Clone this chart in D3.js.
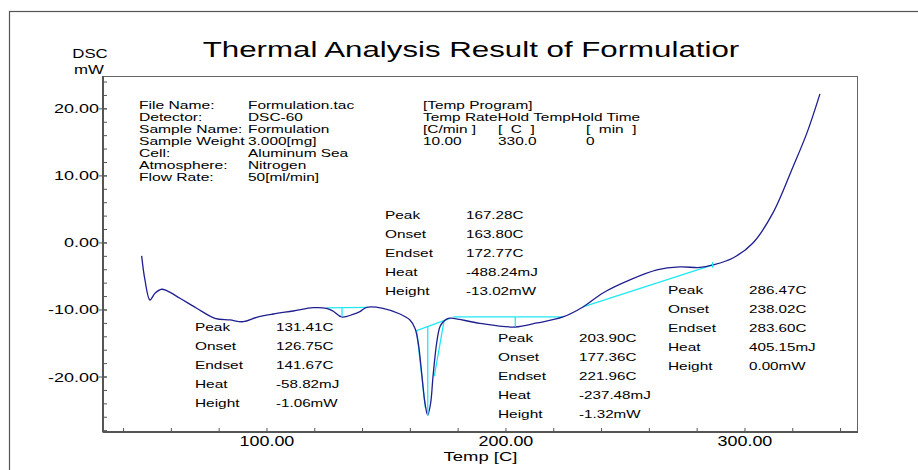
<!DOCTYPE html>
<html>
<head>
<meta charset="utf-8">
<script src="https://cdn.jsdelivr.net/npm/d3@7"></script>
<style>
  body { margin: 0; background: #fff; }
  svg { display: block; font-family: "Liberation Sans", Arial, sans-serif; }
</style>
</head>
<body>
<svg width="918" height="470"></svg>
<script>
// DSC trace: temperature [C] and heat flow [mW]
const temps = [47.57, 48.95, 51.05, 53.14, 55.94, 58.03, 63.60, 70.59, 78.24, 84.52,
  90.08, 95.69, 102.64, 111.0, 119.37, 124.98, 127.62, 131.26, 135.98, 138.91,
  141.72, 148.54, 155.65, 159.83, 161.92, 163.31, 164.73, 166.11, 167.24, 168.49,
  169.46, 171.0, 172.38, 173.77, 175.86, 177.95, 189.12, 203.77, 212.97, 223.85,
  232.22, 240.59, 251.88, 263.18, 272.80, 281.17, 286.61, 294.98, 303.35, 311.72,
  320.08, 325.94, 331.38];
const dsc = [-1.94, -5.52, -8.51, -7.51, -6.91, -7.12, -8.25, -9.75, -11.24, -11.49,
  -11.75, -11.09, -10.60, -10.15, -9.66, -9.75, -10.15, -11.04, -10.67, -10.25,
  -9.60, -9.75, -10.60, -11.49, -12.73, -14.93, -19.40, -23.88, -25.67, -23.88,
  -20.0, -14.93, -12.49, -11.75, -11.24, -11.24, -11.99, -12.54, -11.94, -11.04,
  -9.55, -7.46, -5.52, -4.03, -3.58, -3.66, -3.28, -2.24, 0, 4.48,
  11.34, 16.42, 22.24];

// peak analysis results
const peakTemps = [131.41, 167.28, 203.90, 286.47];
const onsetTemps = [126.75, 163.80, 177.36, 238.02];
const endsetTemps = [141.67, 172.77, 221.96, 283.60];
const heats = [-58.82, -488.24, -237.48, 405.15];
const heights = [-1.06, -13.02, -1.32, 0.00];
const rowNames = ["Peak", "Onset", "Endset", "Heat", "Height"];

// analysis baselines (start / end points) and peak bottoms
const baseStart = [[124.98, -9.70], [162.6, -13.09], [177.95, -11.04], [232.22, -9.55]];
const baseEnd = [[141.72, -9.60], [176.6, -11.24], [223.85, -11.04], [286.61, -3.28]];
const peakBottom = [-11.0, -25.8, -12.5, -3.7];
const tangents = [
  [[162.6, -12.99], [166.3, -24.6]],
  [[174.1, -11.64], [170.0, -19.9]]
];

// axis ticks
const yMajor = [20, 10, 0, -10, -20];
const xMajor = [100, 200, 300];

// header text
const titleText = "Thermal Analysis Result of Formulatior";
const infoLabels = ["File Name:", "Detector:", "Sample Name:", "Sample Weight", "Cell:", "Atmosphere:", "Flow Rate:"];
const infoValues = ["Formulation.tac", "DSC-60", "Formulation", "3.000[mg]", "Aluminum Sea", "Nitrogen", "50[ml/min]"];
const progRows = [["[Temp Program]"], ["Temp RateHold TempHold Time"], ["[C/min ]", "[  C  ]", "[  min  ]"], ["10.00", "330.0", "0"]];

const svg = d3.select("svg");
const W = 918, H = 470;
const plot = { left: 103, right: 858, top: 76, bottom: 432 };

const x = d3.scaleLinear().domain([31.4, 347.3]).range([plot.left, plot.right]);
const y = d3.scaleLinear().domain([-28.2, 24.9]).range([plot.bottom, plot.top]);

// plain hyphen minus, like the instrument printout
const f2 = d3.formatLocale({ decimal: ".", thousands: ",", grouping: [3], currency: ["", ""], minus: "-" }).format(".2f");

// stretch text horizontally like the instrument's print font
function stretch(sel, k) {
  sel.each(function () {
    const w = this.getComputedTextLength();
    this.setAttribute("textLength", w * k);
    this.setAttribute("lengthAdjust", "spacingAndGlyphs");
  });
}

// outer frame
svg.append("rect").attr("x", 9.5).attr("y", 11.5).attr("width", W).attr("height", H)
  .attr("fill", "none").attr("stroke", "#555").attr("stroke-width", 1.2);

// title
svg.append("text").attr("x", 471).attr("y", 57).attr("text-anchor", "middle")
  .attr("font-size", 22).text(titleText).call(stretch, 1.42);

svg.append("text").attr("x", 90).attr("y", 58).attr("text-anchor", "middle")
  .attr("font-size", 12).text("DSC").call(stretch, 1.4);
svg.append("text").attr("x", 89).attr("y", 74).attr("text-anchor", "middle")
  .attr("font-size", 12).text("mW").call(stretch, 1.4);

// plot frame (top/right thin)
svg.append("rect").attr("x", plot.left).attr("y", plot.top + 0.5)
  .attr("width", plot.right - plot.left - 0.5).attr("height", plot.bottom - plot.top)
  .attr("fill", "none").attr("stroke", "#666").attr("stroke-width", 1);

// y axis
const yAxis = svg.append("g").attr("transform", `translate(${plot.left},0)`);
yAxis.append("line").attr("y1", plot.top).attr("y2", plot.bottom).attr("stroke", "#555").attr("stroke-width", 2);
yAxis.selectAll(".ymin").data(d3.range(-28, 25, 2)).join("line")
  .attr("x1", 0).attr("x2", 4).attr("y1", d => y(d)).attr("y2", d => y(d))
  .attr("stroke", "#555");
yAxis.selectAll(".ymaj").data(yMajor).join("line")
  .attr("x1", -4).attr("x2", 4).attr("y1", d => y(d)).attr("y2", d => y(d))
  .attr("stroke", "#555");
yAxis.selectAll("text").data(yMajor).join("text")
  .attr("x", -4).attr("y", d => y(d) + 4.5).attr("text-anchor", "end")
  .attr("font-size", 12).text(f2).call(stretch, 1.5);

// x axis
const xAxis = svg.append("g").attr("transform", `translate(0,${plot.bottom})`);
xAxis.append("line").attr("x1", plot.left).attr("x2", plot.right).attr("stroke", "#555").attr("stroke-width", 2);
xAxis.selectAll(".xmin").data(d3.range(40, 347, 20)).join("line")
  .attr("x1", d => x(d)).attr("x2", d => x(d)).attr("y1", 0).attr("y2", -4)
  .attr("stroke", "#555");
xAxis.selectAll("text").data(xMajor).join("text")
  .attr("x", d => x(d)).attr("y", 13.5).attr("text-anchor", "middle")
  .attr("font-size", 14).text(f2).call(stretch, 1.28);

svg.append("text").attr("x", (plot.left + plot.right) / 2).attr("y", 461).attr("text-anchor", "middle")
  .attr("font-size", 13).text("Temp [C]").call(stretch, 1.42);

// info block
const info = svg.append("g").attr("font-size", 11);
info.selectAll(".lab").data(infoLabels).join("text")
  .attr("x", 139).attr("y", (d, i) => 109 + i * 12).text(d => d).call(stretch, 1.42);
info.selectAll(".val").data(infoValues).join("text")
  .attr("x", 248).attr("y", (d, i) => 109 + i * 12).text(d => d).call(stretch, 1.4);
const progCols = [423, 498, 586];
progRows.forEach((row, i) => {
  row.forEach((t, j) => {
    info.append("text").attr("x", progCols[j]).attr("y", 109 + i * 12)
      .attr("xml:space", "preserve").text(t).call(stretch, 1.4);
  });
});

// analysis lines (cyan)
const cyan = "#1ee8f4";
const ann = svg.append("g").attr("stroke", cyan).attr("stroke-width", 1.3).attr("fill", "none");
ann.selectAll(".base").data(peakTemps).join("line")
  .attr("x1", (d, i) => x(baseStart[i][0])).attr("y1", (d, i) => y(baseStart[i][1]))
  .attr("x2", (d, i) => x(baseEnd[i][0])).attr("y2", (d, i) => y(baseEnd[i][1]));
ann.selectAll(".tan").data(tangents).join("line")
  .attr("x1", d => x(d[0][0])).attr("y1", d => y(d[0][1]))
  .attr("x2", d => x(d[1][0])).attr("y2", d => y(d[1][1]));

// DSC curve
const pts = temps.map((t, i) => [t, dsc[i]]);
const line = d3.line().x(d => x(d[0])).y(d => y(d[1])).curve(d3.curveCatmullRom.alpha(0.5));
svg.append("path").attr("d", line(pts)).attr("fill", "none")
  .attr("stroke", "#1f1f90").attr("stroke-width", 1.3);

// peak verticals
svg.append("g").selectAll("line").data(peakTemps).join("line")
  .attr("x1", d => x(d)).attr("x2", d => x(d))
  .attr("y1", (d, i) => {
    const f = (d - baseStart[i][0]) / (baseEnd[i][0] - baseStart[i][0]);
    const b = baseStart[i][1] + f * (baseEnd[i][1] - baseStart[i][1]);
    return i === 3 ? y(b) - 3 : y(b);
  })
  .attr("y2", (d, i) => y(peakBottom[i]))
  .attr("stroke", cyan).attr("stroke-width", 1.3);

// result tables
const boxPos = [[195, 331], [385, 219], [498, 342], [668, 294]];
peakTemps.forEach((p, i) => {
  const vals = [f2(p) + "C", f2(onsetTemps[i]) + "C", f2(endsetTemps[i]) + "C",
    f2(heats[i]) + "mJ", f2(heights[i]) + "mW"];
  const g = svg.append("g").attr("font-size", 11)
    .attr("transform", `translate(${boxPos[i][0]},${boxPos[i][1]})`);
  g.selectAll(".n").data(rowNames).join("text")
    .attr("x", 0).attr("y", (d, k) => k * 19).text(d => d).call(stretch, 1.4);
  g.selectAll(".v").data(vals).join("text")
    .attr("x", 81).attr("y", (d, k) => k * 19).text(d => d).call(stretch, 1.38);
});
</script>
</body>
</html>
